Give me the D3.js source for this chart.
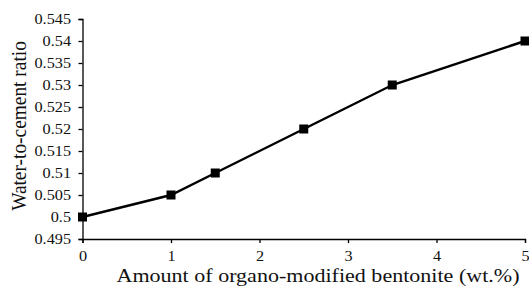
<!DOCTYPE html>
<html>
<head>
<meta charset="utf-8">
<script src="https://cdn.jsdelivr.net/npm/d3@7"></script>
<style>
  body { margin: 0; background: #fff; }
  .axes path, .axes line { stroke: #000; stroke-width: 1.3; }
  .axes text { font-family: "Liberation Serif", "Times New Roman", serif; font-size: 14.5px; fill: #111; }
  .title { font-family: "Liberation Serif", "Times New Roman", serif; fill: #111; }
</style>
</head>
<body>
<div id="chart"></div>
<script>
const amounts = [0, 1, 1.5, 2.5, 3.5, 5];
const ratios = [0.5, 0.505, 0.51, 0.52, 0.53, 0.54];
const xTicks = [0, 1, 2, 3, 4, 5];
const yTicks = [0.495, 0.5, 0.505, 0.51, 0.515, 0.52, 0.525, 0.53, 0.535, 0.54, 0.545];

const margin = {top: 19, right: 4, bottom: 54, left: 82.5},
    width = 529 - margin.left - margin.right,
    height = 293 - margin.top - margin.bottom;

// the original figure's lettering is a little wider than plain Times
const stretch = 1.12;

const svg = d3.select("#chart")
    .append("svg")
    .attr("width", 529)
    .attr("height", 293)
    .append("g")
    .attr("transform", `translate(${margin.left}, ${margin.top})`);

const x = d3.scaleLinear().domain([0, 5]).range([0, width]);
const y = d3.scaleLinear().domain([0.495, 0.545]).range([height, 0]);

function widen(sel) {
    sel.each(function () {
        const w = this.getComputedTextLength();
        d3.select(this).attr("textLength", w * stretch).attr("lengthAdjust", "spacingAndGlyphs");
    });
}

svg.append("g")
    .attr("class", "axes")
    .attr("transform", `translate(0, ${height})`)
    .call(d3.axisBottom(x).tickValues(xTicks).tickFormat(d3.format("d")).tickSize(4).tickSizeOuter(4).tickPadding(8))
    .selectAll("text").call(widen);

svg.append("g")
    .attr("class", "axes")
    .call(d3.axisLeft(y).tickValues(yTicks).tickFormat(d => String(+d.toFixed(3))).tickSize(4).tickSizeOuter(4).tickPadding(7.5))
    .selectAll("text").call(widen);

const data = amounts.map((a, i) => ({a: a, r: ratios[i]}));

svg.append("path")
    .datum(data)
    .attr("fill", "none")
    .attr("stroke", "#000")
    .attr("stroke-width", 2.4)
    .attr("d", d3.line().x(d => x(d.a)).y(d => y(d.r)));

svg.selectAll("rect.pt")
    .data(data)
    .enter()
    .append("rect")
    .attr("class", "pt")
    .attr("x", d => x(d.a) - 4.5)
    .attr("y", d => y(d.r) - 4.5)
    .attr("width", 9)
    .attr("height", 9)
    .attr("fill", "#000");

svg.append("text")
    .attr("class", "title")
    .attr("x", 318 - margin.left)
    .attr("y", 282 - margin.top)
    .attr("text-anchor", "middle")
    .style("font-size", "19.5px")
    .attr("textLength", 403)
    .attr("lengthAdjust", "spacingAndGlyphs")
    .text("Amount of organo-modified bentonite (wt.%)");

svg.append("text")
    .attr("class", "title")
    .attr("transform", `translate(${26 - margin.left}, ${126 - margin.top}) rotate(-90) scale(1, ${stretch})`)
    .attr("text-anchor", "middle")
    .style("font-size", "19.4px")
    .text("Water-to-cement ratio");
</script>
</body>
</html>
